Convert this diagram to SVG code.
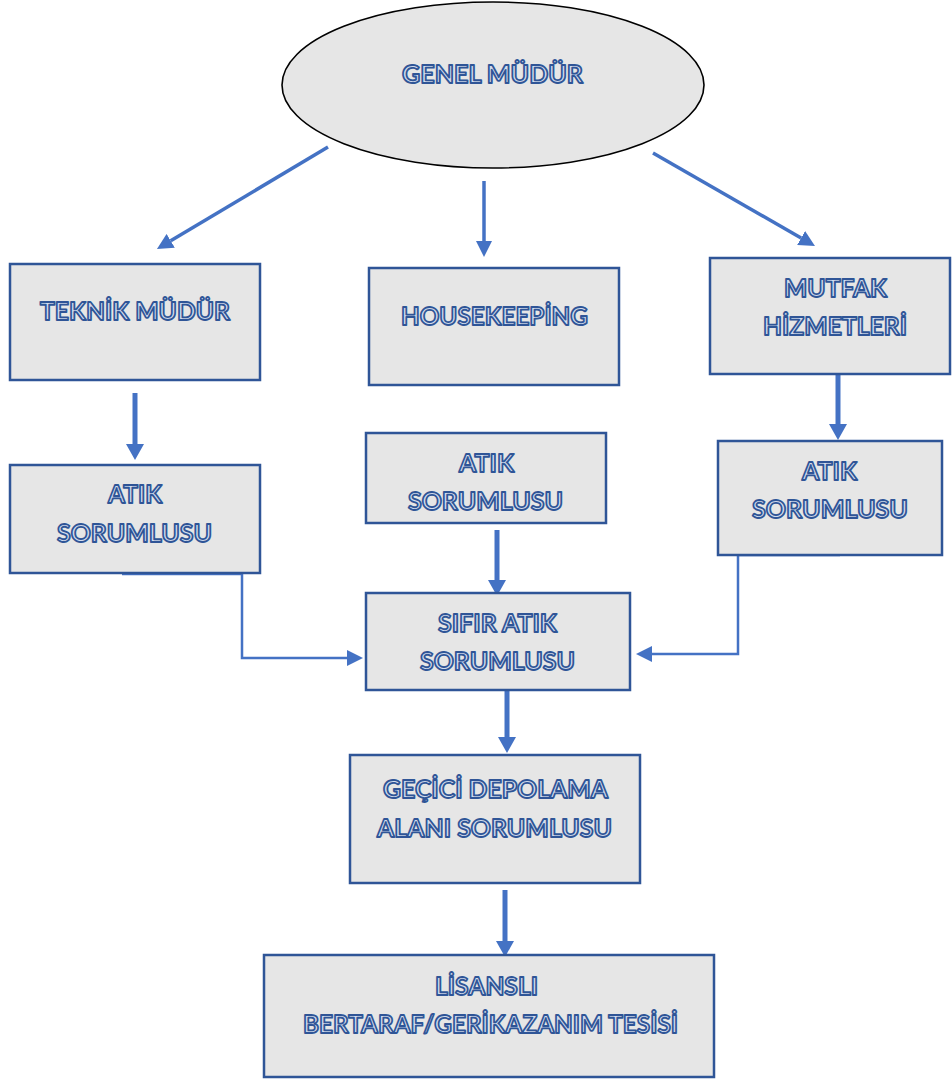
<svg xmlns="http://www.w3.org/2000/svg" width="952" height="1079" viewBox="0 0 952 1079">
<style>
.box{fill:#e6e6e6;stroke:#2f5597;stroke-width:2.5}
.ell{fill:#e6e6e6;stroke:#000;stroke-width:1.6}
.t{font-family:Lato,"Liberation Sans",sans-serif;font-weight:700;font-size:25.5px;fill:#d3ddef;stroke:#2f5597;stroke-width:1.8;stroke-linejoin:round;text-anchor:middle}
.c{fill:none;stroke:#4472c4}
.thick{stroke-width:5}
.mid{stroke-width:3.5}
.thin{stroke-width:2.5}
</style>
<defs>
<marker id="ah" markerUnits="userSpaceOnUse" markerWidth="16" markerHeight="16" viewBox="0 0 16 16" refX="0" refY="8" orient="auto">
<path d="M0,0 L16,8 L0,16 z" fill="#4472c4"/>
</marker>
<marker id="ahb" markerUnits="userSpaceOnUse" markerWidth="16" markerHeight="18" viewBox="0 0 16 18" refX="0" refY="9" orient="auto">
<path d="M0,0 L16,9 L0,18 z" fill="#4472c4"/>
</marker>
</defs>

<g id="connectors">
<line class="c mid" x1="328" y1="147" x2="170.7" y2="240.8" marker-end="url(#ah)"/>
<line class="c mid" x1="484" y1="181" x2="484" y2="241" marker-end="url(#ah)"/>
<line class="c mid" x1="653" y1="153" x2="801.1" y2="238" marker-end="url(#ah)"/>
<line class="c thick" x1="135" y1="393" x2="135" y2="444" marker-end="url(#ahb)"/>
<line class="c thick" x1="838" y1="374" x2="838" y2="424" marker-end="url(#ahb)"/>
<line class="c thick" x1="497" y1="530" x2="497" y2="580" marker-end="url(#ahb)"/>
<line class="c thick" x1="507" y1="686" x2="507" y2="737" marker-end="url(#ahb)"/>
<line class="c thick" x1="505" y1="890" x2="505" y2="941" marker-end="url(#ahb)"/>
<path class="c thin" d="M122,574 H242 V658 H347" marker-end="url(#ah)"/>
<path class="c thin" d="M840,555 H738 V654 H652" marker-end="url(#ah)"/>
</g>

<g id="genel-mudur">
<ellipse class="ell" cx="493" cy="85" rx="211" ry="83"/>
<text class="t" x="492.5" y="83" textLength="181" lengthAdjust="spacingAndGlyphs">GENEL MÜDÜR</text>
</g>

<g id="teknik-mudur">
<rect class="box" x="10" y="264" width="250" height="116"/>
<text class="t" x="135" y="320" textLength="190" lengthAdjust="spacingAndGlyphs">TEKNİK MÜDÜR</text>
</g>

<g id="housekeeping">
<rect class="box" x="369" y="268" width="250" height="117"/>
<text class="t" x="494.5" y="325" textLength="187" lengthAdjust="spacingAndGlyphs">HOUSEKEEPİNG</text>
</g>

<g id="mutfak">
<rect class="box" x="710" y="258" width="240" height="116"/>
<text class="t" x="835.5" y="297" textLength="103" lengthAdjust="spacingAndGlyphs">MUTFAK</text>
<text class="t" x="835" y="335" textLength="144" lengthAdjust="spacingAndGlyphs">HİZMETLERİ</text>
</g>

<g id="atik-sol">
<rect class="box" x="10" y="465" width="250" height="108"/>
<text class="t" x="135" y="503" textLength="54" lengthAdjust="spacingAndGlyphs">ATIK</text>
<text class="t" x="134.5" y="542" textLength="155" lengthAdjust="spacingAndGlyphs">SORUMLUSU</text>
</g>

<g id="atik-orta">
<rect class="box" x="366" y="433" width="240" height="90"/>
<text class="t" x="486.5" y="472" textLength="55" lengthAdjust="spacingAndGlyphs">ATIK</text>
<text class="t" x="485.5" y="510" textLength="155" lengthAdjust="spacingAndGlyphs">SORUMLUSU</text>
</g>

<g id="atik-sag">
<rect class="box" x="718" y="441" width="224" height="114"/>
<text class="t" x="829.5" y="480" textLength="55" lengthAdjust="spacingAndGlyphs">ATIK</text>
<text class="t" x="830" y="518" textLength="156" lengthAdjust="spacingAndGlyphs">SORUMLUSU</text>
</g>

<g id="sifir-atik">
<rect class="box" x="366" y="593" width="264" height="97"/>
<text class="t" x="497.5" y="632" textLength="119" lengthAdjust="spacingAndGlyphs">SIFIR ATIK</text>
<text class="t" x="497.5" y="670" textLength="155" lengthAdjust="spacingAndGlyphs">SORUMLUSU</text>
</g>

<g id="gecici-depolama">
<rect class="box" x="350" y="755" width="290" height="128"/>
<text class="t" x="495.5" y="798" textLength="225" lengthAdjust="spacingAndGlyphs">GEÇİCİ DEPOLAMA</text>
<text class="t" x="494.5" y="837" textLength="235" lengthAdjust="spacingAndGlyphs">ALANI SORUMLUSU</text>
</g>

<g id="lisansli-tesis">
<rect class="box" x="264" y="955" width="450" height="122"/>
<text class="t" x="486.5" y="995" textLength="103" lengthAdjust="spacingAndGlyphs">LİSANSLI</text>
<text class="t" x="490.5" y="1033" textLength="375" lengthAdjust="spacingAndGlyphs">BERTARAF/GERİKAZANIM TESİSİ</text>
</g>
</svg>
